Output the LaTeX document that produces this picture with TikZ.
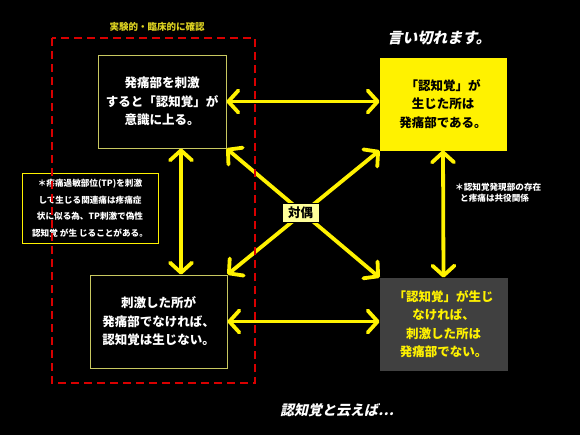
\documentclass[tikz,border=0pt]{standalone}
\usepackage{fontspec}
\setmainfont{Noto Sans CJK JP}
\newfontfamily\slantjp{Noto Sans CJK JP}[FakeSlant=0.22]
\usepackage{xcolor}
\usepackage{tikz}
\usetikzlibrary{calc, arrows.meta}
\definecolor{boxline}{HTML}{C8C860}
\definecolor{pale}{HTML}{FFFF99}
\definecolor{darkbox}{HTML}{404040}
\tikzset{
  every node/.append style={font=\bfseries},
  claim/.style={draw=boxline, line width=0.9pt, fill=black, text=white, align=center,
    font=\fontsize{12.5}{18.5}\selectfont\bfseries, inner sep=0pt},
  link/.style={<->, yellow, line width=3.8pt, line cap=round,
    >={Straight Barb[length=10pt, width=22pt, round]}}
}

\begin{document}
\begin{tikzpicture}[x=1pt, y=-1pt]
    % background and frame
    \fill[black] (0,0) rectangle (580,435);
    \useasboundingbox (0,0) rectangle (580,435);
    % four statements
    \node[claim, minimum width=128pt, minimum height=93pt] (tl) at (162,101.5)
      {発痛部を刺激\\すると「認知覚」が\\意識に上る。};
    \node[claim, fill=yellow, draw=yellow, text=black, minimum width=126pt, minimum height=92pt] (tr) at (443,104)
      {「認知覚」が\\生じた所は\\発痛部である。};
    \node[claim, minimum width=137pt, minimum height=93pt] (bl) at (158.5,321.5)
      {刺激した所が\\発痛部でなければ、\\認知覚は生じない。};
    \node[claim, fill=darkbox, draw=darkbox, text=yellow, minimum width=127pt, minimum height=92pt] (br) at (443.5,324)
      {「認知覚」が生じ\\なければ、\\刺激した所は\\発痛部でない。};
    % arrows between them
    \draw[link] (tl.east) -- (tl.east -| tr.west);
    \draw[link] (bl.east) -- (bl.east -| br.west);
    \draw[link] ([xshift=19pt]tl.south) -- ([xshift=19pt]tl.south |- bl.north);
    \draw[link] (tr.south) -- (br.north);
    \draw[link] (tl.south east) -- (br.north west);
    \draw[link] (bl.north east) -- (tr.south west);
    \node[fill=pale, draw=black, text=black, font=\fontsize{12.5}{14}\selectfont\bfseries,
      minimum width=37pt, minimum height=19pt, inner sep=1pt] (dual) at (300.5,212.5) {対偶};
    % side notes
    \node[draw=yellow, line width=0.8pt, fill=black, text=white, align=center,
      font=\fontsize{8.6}{16.5}\selectfont\bfseries, minimum width=136pt, minimum height=70pt,
      inner sep=0pt] (tp) at (90,208)
      {＊疼痛過敏部位(TP)を刺激\\して生じる関連痛は疼痛症\\状に似る為、TP刺激で偽性\\認知覚 が生 じることがある。};
    \node[text=white, align=left, anchor=north west, inner sep=0pt,
      font=\fontsize{8.6}{11}\selectfont\bfseries] (pair) at (455,183)
      {＊認知覚発現部の存在\\\hspace*{5pt}と疼痛は共役関係};
    % checked region
    \draw[red!85!black, line width=1.4pt, dash pattern=on 8pt off 5pt] (52,38) rectangle (255,383);
    \node[text=yellow!85!black, font=\fontsize{9.5}{11}\selectfont\bfseries] (check) at (157,27)
      {実験的・臨床的に確認};
    % headline and footline
    \node[text=white, font=\slantjp\fontsize{15}{17}\selectfont\bfseries] (say) at (439,38) {言い切れます。};
    \node[text=white, font=\slantjp\fontsize{14}{16}\selectfont\bfseries] (foot) at (337,410) {認知覚と云えば…};
\end{tikzpicture}
\end{document}
